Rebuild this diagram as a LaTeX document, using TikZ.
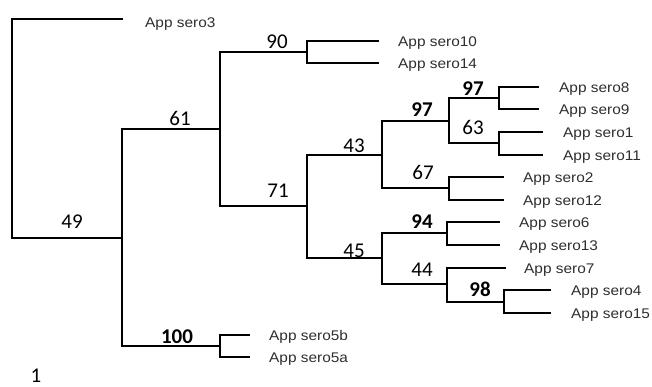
\documentclass[tikz,border=0pt]{standalone}
\usepackage{fontspec}
\newfontfamily\leaffont[FakeStretch=1.1]{Liberation Sans}
\newfontfamily\bsfont{Carlito}
\begin{document}
\begin{tikzpicture}[x=1pt,y=-1pt,
  branch/.style={line width=2.2pt,line join=miter,black},
  leaf/.style={anchor=base west,inner sep=0pt,text=black!82,font=\leaffont\fontsize{14}{14}\selectfont},
  bs/.style={anchor=base,inner sep=0pt,font=\bsfont\fontsize{21}{21}\selectfont},
  bsb/.style={bs,font=\bsfont\bfseries\fontsize{21}{21}\selectfont}]
\useasboundingbox (0,0) rectangle (652,387);
% internal nodes
\coordinate (R) at (12,128);
\coordinate (A) at (122,238);
\coordinate (B) at (220,129);
\coordinate (F) at (220,346);
\coordinate (C) at (307,52);
\coordinate (D) at (307,206);
\coordinate (E) at (382,155);
\coordinate (G) at (382,258);
\coordinate (H) at (449,121);
\coordinate (K) at (449,188);
\coordinate (I) at (499,98);
\coordinate (J) at (499,143);
\coordinate (L) at (447,233);
\coordinate (M) at (447,284);
\coordinate (N) at (504,302);
% tips
\coordinate (t3) at (123,19);
\coordinate (t10) at (379,41);
\coordinate (t14) at (379,63);
\coordinate (t8) at (539,87);
\coordinate (t9) at (539,109);
\coordinate (t1) at (543,132);
\coordinate (t11) at (543,155);
\coordinate (t2) at (504,177);
\coordinate (t12) at (504,200);
\coordinate (t6) at (500,222);
\coordinate (t13) at (500,245);
\coordinate (t7) at (506,268);
\coordinate (t4) at (551,290);
\coordinate (t15) at (551,313);
\coordinate (t5b) at (250,335);
\coordinate (t5a) at (250,357);
% forks
\draw[branch] (t3) -| (R) |- (A);
\draw[branch] (B) -| (A) |- (F);
\draw[branch] (C) -| (B) |- (D);
\draw[branch] (t10) -| (C) |- (t14);
\draw[branch] (E) -| (D) |- (G);
\draw[branch] (H) -| (E) |- (K);
\draw[branch] (I) -| (H) |- (J);
\draw[branch] (t8) -| (I) |- (t9);
\draw[branch] (t1) -| (J) |- (t11);
\draw[branch] (t2) -| (K) |- (t12);
\draw[branch] (L) -| (G) |- (M);
\draw[branch] (t6) -| (L) |- (t13);
\draw[branch] (t7) -| (M) |- (N);
\draw[branch] (t4) -| (N) |- (t15);
\draw[branch] (t5b) -| (F) |- (t5a);
% leaf labels
\node[leaf] (n3) at (145,27.5) {App sero3};
\node[leaf] (n10) at (398,46.5) {App sero10};
\node[leaf] (n14) at (398,68.5) {App sero14};
\node[leaf] (n8) at (559,92.5) {App sero8};
\node[leaf] (n9) at (559,114.5) {App sero9};
\node[leaf] (n1) at (563,137.5) {App sero1};
\node[leaf] (n11) at (563,160.5) {App sero11};
\node[leaf] (n2) at (523,182.5) {App sero2};
\node[leaf] (n12) at (523,205.5) {App sero12};
\node[leaf] (n6) at (519,227.5) {App sero6};
\node[leaf] (n13) at (519,250.5) {App sero13};
\node[leaf] (n7) at (524,273.5) {App sero7};
\node[leaf] (n4) at (571,295.5) {App sero4};
\node[leaf] (n15) at (571,318.5) {App sero15};
\node[leaf] (n5b) at (269,340.5) {App sero5b};
\node[leaf] (n5a) at (269,362.5) {App sero5a};
% bootstrap values
\node[bs] (b49) at (72,229) {49};
\node[bs] (b61) at (180,126) {61};
\node[bs] (b90) at (277,49) {90};
\node[bs] (b71) at (278,198) {71};
\node[bs] (b43) at (354,153) {43};
\node[bsb] (b97a) at (422,117) {97};
\node[bsb] (b97b) at (473,96) {97};
\node[bs] (b63) at (473,135) {63};
\node[bs] (b67) at (423,180) {67};
\node[bsb] (b94) at (422,229) {94};
\node[bs] (b45) at (354,257) {45};
\node[bs] (b44) at (422,276) {44};
\node[bsb] (b98) at (480,296) {98};
\node[bsb] (b100) at (177,343) {100};
\node[bs] (scale) at (36,382) {1};
\end{tikzpicture}
\end{document}
